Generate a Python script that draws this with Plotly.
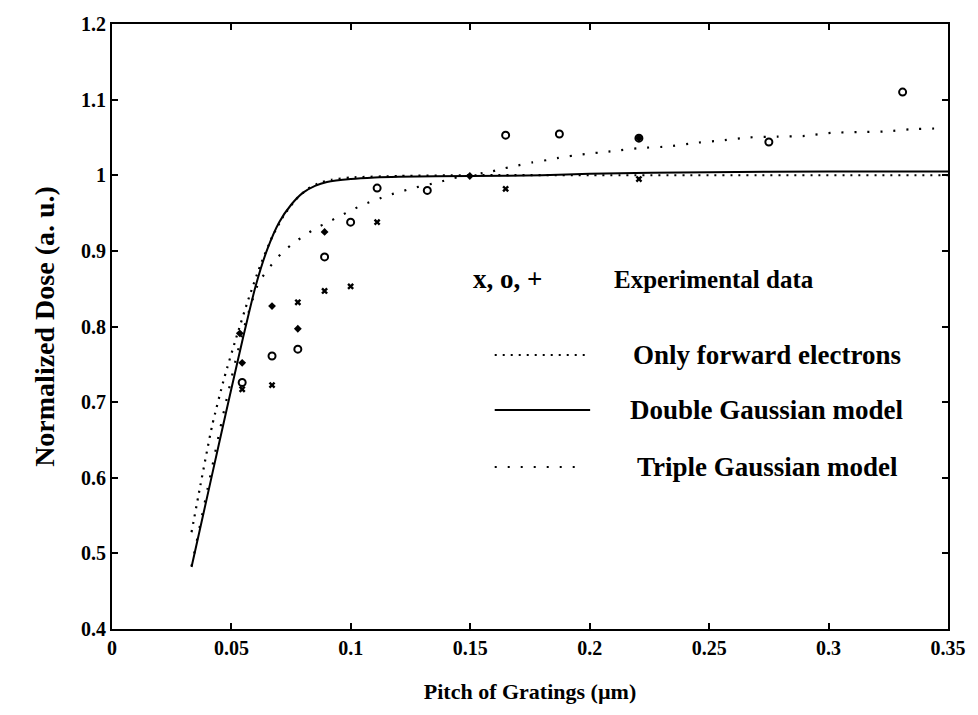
import plotly.graph_objects as go

# ---- Experimental data ----
x_pitch = [0.0545, 0.067, 0.0778, 0.089, 0.0999, 0.111, 0.1648, 0.2206]
x_dose = [0.717, 0.7225, 0.832, 0.847, 0.853, 0.938, 0.982, 0.995]

o_pitch = [0.0545, 0.067, 0.0778, 0.089, 0.0999, 0.111, 0.132, 0.1648, 0.1873, 0.2206, 0.275, 0.331]
o_dose = [0.726, 0.761, 0.770, 0.892, 0.938, 0.983, 0.980, 1.053, 1.0545, 1.049, 1.044, 1.110]

p_pitch = [0.0535, 0.0545, 0.067, 0.0778, 0.089, 0.1498, 0.2206]
p_dose = [0.791, 0.752, 0.827, 0.797, 0.925, 0.999, 1.049]

# ---- Model curves ----
dg_pitch = [0.0333, 0.04, 0.045, 0.05, 0.055, 0.06, 0.065, 0.07, 0.075, 0.08, 0.085,
            0.09, 0.1, 0.11, 0.12, 0.15, 0.18, 0.2, 0.25, 0.3, 0.35]
dg_dose = [0.482, 0.577, 0.648, 0.718, 0.787, 0.852, 0.902, 0.938, 0.961, 0.977, 0.986,
           0.991, 0.995, 0.997, 0.998, 0.999, 1.0, 1.002, 1.004, 1.005, 1.005]

fw_pitch = [0.0333, 0.037, 0.042, 0.047, 0.052, 0.057, 0.062, 0.067, 0.072, 0.077,
            0.082, 0.087, 0.092, 0.1, 0.12, 0.15, 0.2, 0.35]
fw_dose = [0.528, 0.590, 0.670, 0.732, 0.785, 0.835, 0.880, 0.918, 0.947, 0.968,
           0.982, 0.990, 0.994, 0.997, 0.999, 1.0, 1.0, 1.0]

tg_pitch = [0.0333, 0.04, 0.047, 0.0545, 0.0614, 0.0647, 0.0684, 0.072, 0.0763, 0.0809,
            0.0854, 0.0904, 0.0954, 0.1004, 0.1058, 0.111, 0.116, 0.1207, 0.126, 0.137,
            0.1427, 0.159, 0.164, 0.170, 0.176, 0.182, 0.187, 0.193, 0.198, 0.204,
            0.210, 0.221, 0.2327, 0.2447, 0.2555, 0.2667, 0.2787, 0.290, 0.301, 0.312,
            0.324, 0.335, 0.3475]
tg_dose = [0.483, 0.585, 0.690, 0.790, 0.858, 0.873, 0.888, 0.900, 0.911, 0.921,
           0.930, 0.938, 0.946, 0.954, 0.962, 0.968, 0.974, 0.978, 0.983, 0.991,
           0.996, 1.005, 1.009, 1.013, 1.017, 1.020, 1.023, 1.026, 1.028, 1.030,
           1.032, 1.036, 1.038, 1.043, 1.046, 1.050, 1.051, 1.052, 1.056, 1.057,
           1.058, 1.061, 1.062]

x_ticks = [0, 0.05, 0.1, 0.15, 0.2, 0.25, 0.3, 0.35]
x_tick_text = ["0", "0.05", "0.1", "0.15", "0.2", "0.25", "0.3", "0.35"]
y_ticks = [0.4, 0.5, 0.6, 0.7, 0.8, 0.9, 1.0, 1.1, 1.2]
y_tick_text = ["0.4", "0.5", "0.6", "0.7", "0.8", "0.9", "1", "1.1", "1.2"]

FONT = "Liberation Serif"

fig = go.Figure()

fig.add_trace(go.Scatter(x=tg_pitch, y=tg_dose, mode="lines", name="Triple Gaussian model",
                         line=dict(color="black", width=2.2, dash="2px,11px", shape="spline", smoothing=0.6)))
fig.add_trace(go.Scatter(x=fw_pitch, y=fw_dose, mode="lines", name="Only forward electrons",
                         line=dict(color="black", width=2.2, dash="2px,6px", shape="spline", smoothing=0.6)))
fig.add_trace(go.Scatter(x=dg_pitch, y=dg_dose, mode="lines", name="Double Gaussian model",
                         line=dict(color="black", width=2, shape="spline", smoothing=0.6)))

fig.add_trace(go.Scatter(x=x_pitch, y=x_dose, mode="markers", name="x",
                         marker=dict(symbol="x", size=6, color="black")))
fig.add_trace(go.Scatter(x=o_pitch, y=o_dose, mode="markers", name="o",
                         marker=dict(symbol="circle-open", size=7, color="black", line=dict(width=2))))
fig.add_trace(go.Scatter(x=p_pitch, y=p_dose, mode="markers", name="+",
                         marker=dict(symbol="diamond", size=6, color="black")))

# Legend (drawn as text + sample lines)
def px(x):
    return (x - 112) / 841.0

def py(y):
    return (629 - y) / 605.0

legend_rows = [
    ("Only forward electrons", py(355), dict(color="black", width=2, dash="2px,6px"), 593),
    ("Double Gaussian model", py(410), dict(color="black", width=2), 593),
    ("Triple Gaussian model", py(467), dict(color="black", width=2, dash="2px,11px"), 585),
]
for label, yy, ln, xe in legend_rows:
    fig.add_shape(type="line", xref="paper", yref="paper", x0=px(497), x1=px(xe), y0=yy, y1=yy, line=ln)
    fig.add_annotation(xref="paper", yref="paper", x=px(771), y=yy, text=label, showarrow=False,
                       xanchor="center", yanchor="middle",
                       font=dict(family=FONT, size=27, color="black", weight="bold"))

fig.add_annotation(xref="paper", yref="paper", x=px(510), y=py(279), text="x, o, +", showarrow=False,
                   xanchor="center", yanchor="middle",
                   font=dict(family=FONT, size=27, color="black", weight="bold"))
fig.add_annotation(xref="paper", yref="paper", x=px(718), y=py(279), text="Experimental data", showarrow=False,
                   xanchor="center", yanchor="middle",
                   font=dict(family=FONT, size=25, color="black", weight="bold"))

axis_common = dict(showline=True, linecolor="black", linewidth=2, mirror="ticks",
                   ticks="inside", ticklen=6, tickwidth=1.5, tickcolor="black",
                   showgrid=False, zeroline=False,
                   tickfont=dict(family=FONT, size=20, color="black", weight="bold"))

fig.update_xaxes(range=[0, 0.35], tickvals=x_ticks, ticktext=x_tick_text,
                 title=dict(text="Pitch of Gratings (µm)", standoff=26,
                            font=dict(family=FONT, size=22, color="black", weight="bold")),
                 **axis_common)
fig.update_yaxes(range=[0.4, 1.2], tickvals=y_ticks, ticktext=y_tick_text,
                 title=dict(text="Normalized Dose (a. u.)", standoff=18,
                            font=dict(family=FONT, size=28, color="black", weight="bold")),
                 **axis_common)

fig.update_layout(width=978, height=715, margin=dict(l=112, r=25, t=24, b=86),
                  plot_bgcolor="white", paper_bgcolor="white", showlegend=False,
                  font=dict(family=FONT, color="black"))

fig.write_html("out.html")
